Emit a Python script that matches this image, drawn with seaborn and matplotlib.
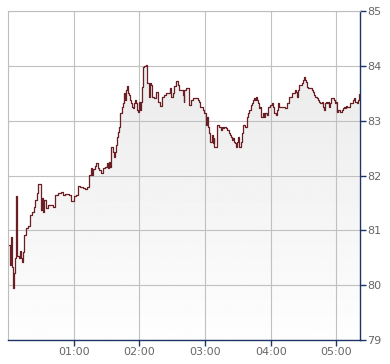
import numpy as np
import pandas as pd
import matplotlib
matplotlib.use("Agg")
import matplotlib.pyplot as plt
import seaborn as sns

# minutes since 00:00
minutes = [0.7, 1.6, 2.6, 3.5, 4.4, 5.3, 6.2, 7.1, 8.0, 9.8, 10.8, 11.7, 12.6, 13.5, 14.4, 16.2, 18.1, 19.9,
           21.7, 23.5, 24.4, 26.3, 27.2, 29.0, 29.9, 30.8, 31.7, 32.6, 34.5, 36.3, 39.0, 40.9, 42.7, 45.4,
           48.2, 50.0, 51.8, 53.6, 55.4, 57.3, 59.1, 60.0, 61.8, 63.6, 65.5, 68.2, 70.0, 71.9, 73.7, 75.5,
           76.4, 77.3, 79.2, 80.1, 81.9, 82.8, 84.6, 86.5, 88.3, 90.1, 91.0, 91.9, 92.8, 93.8, 95.6, 96.5,
           97.4, 98.3, 99.2, 100.1, 101.1, 102.0, 102.9, 103.8, 104.7, 105.6, 106.5, 107.4, 108.4, 109.3,
           110.2, 111.1, 112.0, 112.9, 113.8, 114.7, 115.6, 116.6, 117.5, 118.4, 119.3, 120.2, 121.1, 122.0,
           122.9, 123.8, 125.7, 126.6, 127.5, 128.4, 129.3, 130.2, 131.1, 133.0, 134.8, 136.6, 138.4, 140.3,
           142.1, 143.9, 146.6, 147.6, 148.5, 150.3, 151.2, 153.0, 154.9, 155.8, 157.6, 159.4, 160.3, 161.2,
           163.0, 164.9, 166.7, 169.4, 173.1, 174.0, 175.8, 177.7, 178.6, 180.4, 181.3, 182.2, 183.1, 184.0,
           184.9, 185.9, 186.8, 187.7, 188.6, 190.4, 191.3, 192.2, 193.1, 194.1, 195.0, 195.9, 196.8, 197.7,
           199.5, 200.4, 201.4, 202.3, 203.2, 204.1, 205.0, 205.9, 206.8, 207.7, 208.7, 209.6, 210.5, 211.4,
           212.3, 213.2, 214.1, 215.0, 216.9, 218.7, 219.6, 220.5, 222.3, 223.2, 224.2, 225.1, 226.0, 226.9,
           227.8, 228.7, 229.6, 230.5, 231.5, 233.3, 234.2, 235.1, 236.9, 237.8, 239.7, 241.5, 242.4, 243.3,
           245.1, 246.0, 247.0, 247.9, 251.5, 253.3, 255.2, 257.0, 259.7, 262.5, 263.4, 264.3, 265.2, 266.1,
           267.9, 268.8, 269.7, 270.7, 271.6, 272.5, 273.4, 274.3, 276.1, 277.9, 278.9, 279.8, 280.7, 281.6,
           282.5, 283.4, 284.3, 285.2, 286.2, 287.1, 288.0, 288.9, 289.8, 290.7, 291.6, 292.5, 293.4, 294.4,
           295.3, 297.1, 298.0, 298.9, 299.8, 300.7, 301.7, 303.5, 305.3, 306.2, 307.1, 308.0, 309.0, 309.9,
           310.8, 312.6, 314.4, 315.4, 316.3, 317.2, 319.0, 319.9, 320.8]

prices = [80.73, 80.37, 80.88, 80.33, 79.95, 80.22, 80.49, 81.63, 80.53, 80.49, 80.62, 80.49, 80.42, 80.60,
          80.91, 81.04, 81.08, 81.28, 81.33, 81.43, 81.55, 81.68, 81.84, 81.84, 81.37, 81.59, 81.33, 81.55,
          81.41, 81.46, 81.46, 81.43, 81.64, 81.68, 81.70, 81.64, 81.66, 81.66, 81.64, 81.53, 81.53, 81.63,
          81.64, 81.81, 81.79, 81.77, 81.75, 81.79, 82.01, 82.14, 82.01, 82.12, 82.17, 82.23, 82.14, 82.10,
          82.05, 82.14, 82.16, 82.23, 82.14, 82.25, 82.16, 82.52, 82.43, 82.34, 82.43, 82.56, 82.70, 82.79,
          82.88, 83.14, 83.14, 83.25, 83.32, 83.50, 83.38, 83.56, 83.63, 83.50, 83.47, 83.38, 83.32, 83.25,
          83.23, 83.32, 83.38, 83.32, 83.19, 83.16, 83.34, 83.19, 83.34, 83.61, 83.98, 84.00, 84.02, 83.69,
          83.69, 83.43, 83.69, 83.65, 83.43, 83.41, 83.52, 83.34, 83.27, 83.43, 83.47, 83.50, 83.50, 83.60,
          83.43, 83.50, 83.63, 83.72, 83.65, 83.56, 83.56, 83.47, 83.34, 83.56, 83.60, 83.29, 83.38, 83.41,
          83.38, 83.34, 83.25, 83.19, 83.14, 83.10, 82.92, 83.07, 82.88, 82.77, 82.61, 82.74, 82.59, 82.68,
          82.52, 82.52, 82.92, 82.92, 82.88, 82.87, 82.83, 82.88, 82.87, 82.88, 82.87, 82.83, 82.81, 82.77,
          82.74, 82.70, 82.65, 82.68, 82.61, 82.59, 82.52, 82.61, 82.70, 82.52, 82.52, 82.61, 82.77, 82.92,
          82.88, 83.07, 83.14, 83.19, 83.29, 83.32, 83.38, 83.41, 83.38, 83.43, 83.38, 83.32, 83.23, 83.25,
          83.07, 83.14, 83.07, 83.14, 83.10, 83.25, 83.29, 83.32, 83.25, 83.14, 83.10, 83.19, 83.32, 83.25,
          83.25, 83.23, 83.32, 83.43, 83.50, 83.56, 83.52, 83.43, 83.56, 83.65, 83.65, 83.69, 83.74, 83.80,
          83.74, 83.71, 83.61, 83.60, 83.60, 83.56, 83.52, 83.47, 83.43, 83.43, 83.41, 83.38, 83.34, 83.32,
          83.32, 83.34, 83.25, 83.19, 83.32, 83.34, 83.32, 83.34, 83.25, 83.32, 83.41, 83.41, 83.38, 83.32,
          83.34, 83.16, 83.19, 83.16, 83.19, 83.23, 83.25, 83.23, 83.27, 83.25, 83.25, 83.32, 83.32, 83.38,
          83.41, 83.34, 83.32, 83.38, 83.49]

x_ticks = [60, 120, 180, 240, 300]
x_labels = ["01:00", "02:00", "03:00", "04:00", "05:00"]
y_ticks = [79, 80, 81, 82, 83, 84, 85]

df = pd.DataFrame({"minute": minutes, "price": prices})

sns.set_theme(style="white")
plt.rcParams["font.family"] = ["DejaVu Sans"]

fig = plt.figure(figsize=(3.9, 3.64), dpi=100)
ax = fig.add_axes([8 / 390, 24 / 364, 352 / 390, 329 / 364])

x0, x1 = 0.0, 321.5
y0, y1 = 79, 85

# gradient fill under the line (darker near the top, white at the bottom)
poly = ax.fill_between(df["minute"], df["price"], y0, step="post", color="none", lw=0)
grad = np.linspace(0.995, 0.905, 256).reshape(-1, 1)
img = ax.imshow(grad, extent=[x0, x1, y0, y1], cmap="gray", vmin=0, vmax=1,
                aspect="auto", origin="lower", zorder=0.2, interpolation="bilinear")
path = poly.get_paths()[0]
img.set_clip_path(path, transform=ax.transData)

sns.lineplot(data=df, x="minute", y="price", ax=ax, color="#6b1f24", lw=0.9,
             drawstyle="steps-post", estimator=None, zorder=3)

ax.set_xlim(x0, x1)
ax.set_ylim(y0, y1)

ax.set_xticks(x_ticks)
ax.set_xticklabels(x_labels)
ax.set_yticks(y_ticks)
ax.yaxis.tick_right()
ax.set_xlabel("")
ax.set_ylabel("")

ax.set_axisbelow("line")
ax.grid(True, color="#c0c0c0", lw=0.8)

navy = "#1c3466"
for s in ["left", "top"]:
    ax.spines[s].set_color("#bdbdbd")
    ax.spines[s].set_linewidth(0.8)
for s in ["right", "bottom"]:
    ax.spines[s].set_color(navy)
    ax.spines[s].set_linewidth(1.0)

ax.tick_params(axis="y", which="both", right=True, left=False, direction="out",
               length=4, width=1, color=navy, labelsize=8, labelcolor="#666666", pad=1)
ax.tick_params(axis="x", which="both", bottom=True, direction="out",
               length=4, width=1, color=navy, labelsize=8, labelcolor="#666666", pad=1)

fig.savefig("out.png", dpi=100)
